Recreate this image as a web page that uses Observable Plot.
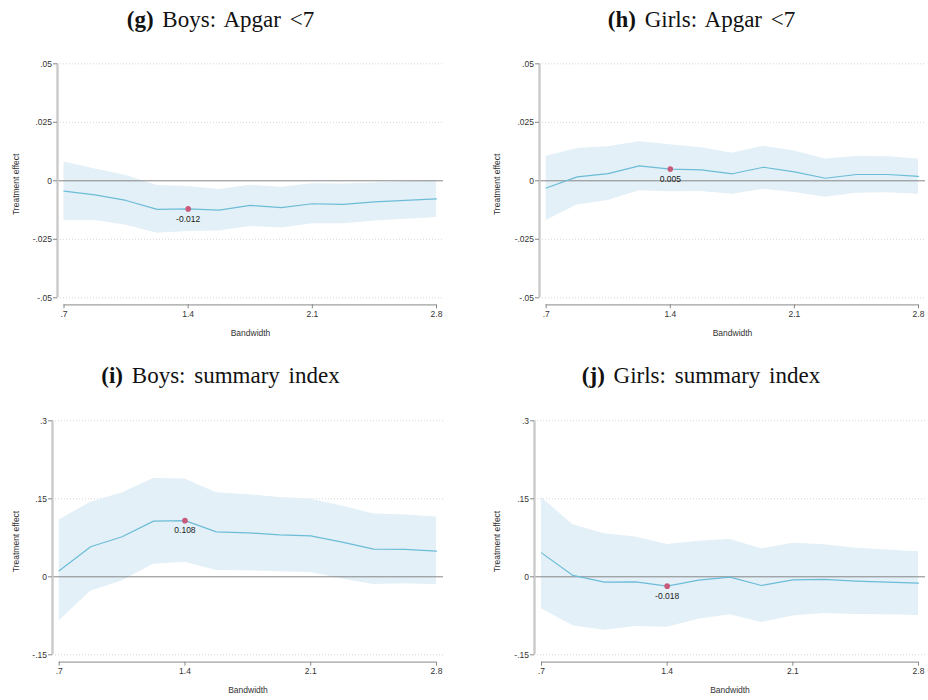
<!DOCTYPE html>
<html>
<head>
<meta charset="utf-8">
<script src="https://cdn.jsdelivr.net/npm/d3@7"></script>
<script src="https://cdn.jsdelivr.net/npm/@observablehq/plot@0.6"></script>
<style>
  body { margin: 0; background: #fff; }
  #fig { position: relative; width: 928px; height: 700px; overflow: hidden; background: #fff; }
  .title { position: absolute; font-family: "Liberation Serif", "Times New Roman", serif; font-size: 23px;
           line-height: 22px; word-spacing: 3px; color: #111; white-space: nowrap; transform: translateX(-50%); }
  .title b { font-weight: bold; }
  .panel { position: absolute; }
</style>
</head>
<body>
<div id="fig"></div>
<script>
// Bandwidths at which the RD treatment effect is re-estimated
const bandwidth = [0.7, 0.875, 1.05, 1.225, 1.4, 1.575, 1.75, 1.925, 2.1, 2.275, 2.45, 2.625, 2.8];
const xTicks = [0.7, 1.4, 2.1, 2.8];
const preferredBandwidth = 1.4;

// (g) Boys: Apgar <7
const boysApgarEst = [-0.0044, -0.0060, -0.0084, -0.0122, -0.012, -0.0125, -0.0105, -0.0115, -0.0098, -0.0101, -0.0090, -0.0084, -0.0077];
const boysApgarHi  = [0.0080, 0.0050, 0.0023, -0.0020, -0.0024, -0.0037, -0.0019, -0.0028, -0.0013, -0.0014, -0.0009, -0.0004, 0.0000];
const boysApgarLo  = [-0.0170, -0.0170, -0.0190, -0.0224, -0.0217, -0.0215, -0.0195, -0.0202, -0.0184, -0.0184, -0.0172, -0.0164, -0.0157];

// (h) Girls: Apgar <7
const girlsApgarEst = [-0.0031, 0.0017, 0.0031, 0.0064, 0.005, 0.0047, 0.0030, 0.0058, 0.0038, 0.0011, 0.0027, 0.0027, 0.0019];
const girlsApgarHi  = [0.0105, 0.0138, 0.0145, 0.0167, 0.0154, 0.0141, 0.0118, 0.0148, 0.0127, 0.0093, 0.0104, 0.0103, 0.0093];
const girlsApgarLo  = [-0.0170, -0.0103, -0.0084, -0.0043, -0.0047, -0.0046, -0.0058, -0.0036, -0.0050, -0.0070, -0.0053, -0.0051, -0.0057];

// (i) Boys: summary index
const boysIndexEst = [0.0115, 0.0577, 0.077, 0.107, 0.108, 0.0865, 0.0846, 0.0808, 0.0788, 0.0667, 0.0532, 0.0526, 0.0494];
const boysIndexHi  = [0.109, 0.1436, 0.161, 0.189, 0.188, 0.1615, 0.158, 0.1526, 0.149, 0.136, 0.121, 0.119, 0.115];
const boysIndexLo  = [-0.085, -0.028, -0.008, 0.024, 0.028, 0.012, 0.0115, 0.0096, 0.0083, -0.004, -0.0147, -0.0135, -0.0154];

// (j) Girls: summary index
const girlsIndexEst = [0.046, 0.0026, -0.0103, -0.0096, -0.018, -0.0064, -0.0006, -0.0167, -0.0058, -0.005, -0.0083, -0.0103, -0.0122];
const girlsIndexHi  = [0.1526, 0.100, 0.0827, 0.0763, 0.0622, 0.0686, 0.0718, 0.0538, 0.0647, 0.0615, 0.055, 0.0513, 0.048];
const girlsIndexLo  = [-0.0615, -0.094, -0.103, -0.0955, -0.0968, -0.0814, -0.073, -0.0878, -0.0756, -0.0705, -0.0724, -0.073, -0.0744];

// Axis ticks
const apgarTicks = [-0.05, -0.025, 0, 0.025, 0.05];
const indexTicks = [-0.15, 0, 0.15, 0.3];

// Panel titles: bold letter + caption
const titles = [["(g)", "Boys: Apgar <7"], ["(h)", "Girls: Apgar <7"], ["(i)", "Boys: summary index"], ["(j)", "Girls: summary index"]];

// Stata-style number labels (no leading zero, ASCII minus)
const stataFmt = t => t === 0 ? "0" : String(+t.toFixed(4)).replace(/^(-?)0\./, "$1.");
const pointFmt = v => v.toFixed(3);

const fig = document.getElementById("fig");

function addTitle([letter, text], cx, top) {
  const div = document.createElement("div");
  div.className = "title";
  div.style.left = cx + "px";
  div.style.top = top + "px";
  const b = document.createElement("b");
  b.textContent = letter;
  div.appendChild(b);
  div.appendChild(document.createTextNode(" " + text));
  fig.appendChild(div);
}

function panel({est, lo, hi, yDomain, yTicks, left, top, height, mL, iL, mR, iR, mT, mB, iB, yLabOff}) {
  const rows = bandwidth.map((b, i) => ({b, est: est[i], lo: lo[i], hi: hi[i]}));
  const sel = rows.filter(d => d.b === preferredBandwidth);
  const chart = Plot.plot({
    width: 464, height,
    marginLeft: mL, marginRight: mR, marginTop: mT, marginBottom: mB,
    style: {fontFamily: "'Liberation Sans', Arial, sans-serif", fontSize: "8.5px", color: "#333", background: "transparent"},
    x: {domain: [0.7, 2.8], insetLeft: iL, insetRight: iR},
    y: {domain: yDomain, insetBottom: iB},
    marks: [
      Plot.ruleY(yTicks.filter(t => t !== 0), {stroke: "#d6d6d6", strokeDasharray: "1,2"}),
      Plot.areaY(rows, {x: "b", y1: "lo", y2: "hi", fill: "#e3f0f7"}),
      Plot.ruleY([0], {stroke: "#858585", strokeWidth: 1}),
      Plot.lineY(rows, {x: "b", y: "est", stroke: "#6cbcd8", strokeWidth: 1.2}),
      Plot.dot(sel, {x: "b", y: "est", r: 2.8, fill: "#c95a7c", stroke: "none"}),
      Plot.text(sel, {x: "b", y: "est", text: d => pointFmt(d.est), dy: 10, fill: "#222"}),
      Plot.ruleX([0.7], {y1: yDomain[0], y2: yDomain[1], dx: -iL, stroke: "#c8c8c8", strokeWidth: 2.3}),
      Plot.ruleY([yDomain[0]], {x1: 0.7, x2: 2.8, dy: iB, stroke: "#a0a0a0", strokeWidth: 1.3}),
      Plot.axisY({ticks: yTicks, tickFormat: stataFmt, tickSize: 4, tickPadding: 1.5, stroke: "#888",
                  label: "Treatment effect", labelAnchor: "center", labelOffset: yLabOff, labelArrow: "none"}),
      Plot.axisX({ticks: xTicks, tickFormat: stataFmt, tickSize: 4, tickPadding: 2, stroke: "#888",
                  label: "Bandwidth", labelAnchor: "center", labelOffset: 31, labelArrow: "none"})
    ]
  });
  chart.classList.add("panel");
  chart.style.left = left + "px";
  chart.style.top = top + "px";
  fig.appendChild(chart);
}

addTitle(titles[0], 220.5, 8.5);
addTitle(titles[1], 701.5, 8.5);
addTitle(titles[2], 220.5, 364.5);
addTitle(titles[3], 701, 364.5);

panel({est: boysApgarEst, lo: boysApgarLo, hi: boysApgarHi, yDomain: [-0.05, 0.05], yTicks: apgarTicks,
       left: 0, top: 40, height: 300, mL: 57, iL: 6.5, mR: 21, iR: 7, mT: 23.3, mB: 35.7, iB: 7, yLabOff: 45});
panel({est: girlsApgarEst, lo: girlsApgarLo, hi: girlsApgarHi, yDomain: [-0.05, 0.05], yTicks: apgarTicks,
       left: 464, top: 40, height: 300, mL: 75, iL: 6.7, mR: 3, iR: 7, mT: 23.3, mB: 35.7, iB: 7, yLabOff: 46});
panel({est: boysIndexEst, lo: boysIndexLo, hi: boysIndexHi, yDomain: [-0.15, 0.3], yTicks: indexTicks,
       left: 0, top: 395, height: 305, mL: 52, iL: 6.7, mR: 21, iR: 7, mT: 25.3, mB: 38.3, iB: 7.4, yLabOff: 40});
panel({est: girlsIndexEst, lo: girlsIndexLo, hi: girlsIndexHi, yDomain: [-0.15, 0.3], yTicks: indexTicks,
       left: 464, top: 395, height: 305, mL: 70, iL: 7, mR: 3, iR: 7, mT: 25.3, mB: 38.3, iB: 7.4, yLabOff: 41});
</script>
</body>
</html>
